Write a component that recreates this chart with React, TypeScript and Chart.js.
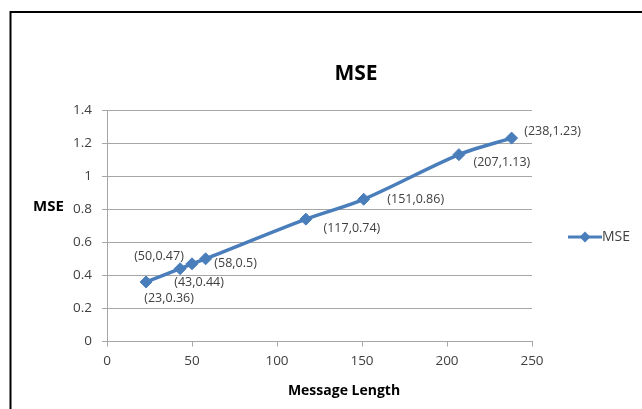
import React, { useEffect, useRef } from "react";
import { Chart, registerables } from "chart.js";

Chart.register(...registerables);

// ---- data ----
const messageLength = [23, 43, 50, 58, 117, 151, 207, 238];
const mseValues = [0.36, 0.44, 0.47, 0.5, 0.74, 0.86, 1.13, 1.23];
const xTickValues = [0, 50, 100, 150, 200, 250];
const yTickValues = [0, 0.2, 0.4, 0.6, 0.8, 1, 1.2, 1.4];
const seriesName = "MSE";
const chartTitle = "MSE";
const xAxisTitle = "Message Length";
const yAxisTitle = "MSE";

// ---- styles ----
const FONT = "'Open Sans', 'Noto Sans', sans-serif";
const LINE_COLOR = "#4A7EBB";
const GRID_COLOR = "#A6A6A6";
const TEXT_COLOR = "#404040";
// label offsets (relative to each point, in px) – Excel-like manual placement
const LABEL_OFFSETS: [number, number][] = [
  [23, 16],
  [19, 14],
  [-33, -7],
  [30, 5],
  [46, 9],
  [52, 0],
  [43, 8],
  [41, -7],
];

const W = 642;
const H = 409;

const decorPlugin = {
  id: "decor",
  beforeDraw(chart: any) {
    const ctx = chart.ctx;
    ctx.save();
    ctx.fillStyle = "#ffffff";
    ctx.fillRect(0, 0, W, H);
    // outer frame
    ctx.strokeStyle = "#000000";
    ctx.lineWidth = 2;
    ctx.beginPath();
    ctx.moveTo(10.5, H + 5);
    ctx.lineTo(10.5, 12);
    ctx.lineTo(W + 5, 12);
    ctx.stroke();
    ctx.restore();
  },
  afterDraw(chart: any) {
    const ctx = chart.ctx;
    ctx.save();
    // title
    ctx.fillStyle = "#000000";
    ctx.textAlign = "center";
    ctx.textBaseline = "middle";
    ctx.font = `bold 21px ${FONT}`;
    ctx.fillText(chartTitle, 356, 74);
    // axis titles
    ctx.font = `bold 14px ${FONT}`;
    ctx.fillText(xAxisTitle, 344, 391);
    ctx.font = `bold 15px ${FONT}`;
    ctx.fillText(yAxisTitle, 48.5, 206.5);

    // data labels
    const meta = chart.getDatasetMeta(0);
    ctx.font = `12.5px ${FONT}`;
    ctx.fillStyle = TEXT_COLOR;
    meta.data.forEach((pt: any, i: number) => {
      const [dx, dy] = LABEL_OFFSETS[i] || [0, -12];
      const txt = `(${messageLength[i]},${mseValues[i]})`;
      ctx.fillText(txt, pt.x + dx, pt.y + dy);
    });

    // legend
    const ds = chart.data.datasets[0];
    const ly = 237;
    ctx.strokeStyle = ds.borderColor;
    ctx.lineWidth = 3;
    ctx.beginPath();
    ctx.moveTo(568, ly);
    ctx.lineTo(602, ly);
    ctx.stroke();
    ctx.fillStyle = ds.borderColor;
    ctx.beginPath();
    ctx.moveTo(585, ly - 5.5);
    ctx.lineTo(590.5, ly);
    ctx.lineTo(585, ly + 5.5);
    ctx.lineTo(579.5, ly);
    ctx.closePath();
    ctx.fill();
    ctx.fillStyle = TEXT_COLOR;
    ctx.font = `14px ${FONT}`;
    ctx.textAlign = "left";
    ctx.fillText(ds.label, 602, ly);
    ctx.restore();
  },
};

export default function App() {
  const ref = useRef<HTMLCanvasElement | null>(null);

  useEffect(() => {
    if (!ref.current) return;
    const chart = new Chart(ref.current, {
      type: "line",
      data: {
        datasets: [
          {
            label: seriesName,
            data: messageLength.map((x, i) => ({ x, y: mseValues[i] })),
            borderColor: LINE_COLOR,
            backgroundColor: LINE_COLOR,
            borderWidth: 3.5,
            tension: 0.3,
            pointStyle: "rectRot",
            pointRadius: 6,
            pointHoverRadius: 6,
            pointBackgroundColor: LINE_COLOR,
            pointBorderColor: LINE_COLOR,
            pointBorderWidth: 1,
            fill: false,
          },
        ],
      },
      options: {
        responsive: false,
        animation: false,
        devicePixelRatio: 1,
        layout: { padding: { left: 0, right: 110, top: 110, bottom: 0 } },
        plugins: {
          legend: { display: false },
          title: { display: false },
          tooltip: { enabled: false },
        },
        scales: {
          x: {
            type: "linear",
            min: 0,
            max: 250,
            afterBuildTicks: (s: any) => {
              s.ticks = xTickValues.map((v) => ({ value: v }));
            },
            afterFit: (s: any) => {
              s.height = 67.5;
            },
            grid: {
              drawOnChartArea: false,
              drawTicks: true,
              tickLength: 5,
              color: GRID_COLOR,
            },
            border: { color: GRID_COLOR, width: 1 },
            ticks: {
              padding: 7,
              color: TEXT_COLOR,
              font: { family: FONT, size: 13.5 },
              maxRotation: 0,
            },
          },
          y: {
            type: "linear",
            min: 0,
            max: 1.4,
            afterBuildTicks: (s: any) => {
              s.ticks = yTickValues.map((v) => ({ value: v }));
            },
            afterFit: (s: any) => {
              s.width = 107;
            },
            grid: {
              drawOnChartArea: true,
              drawTicks: true,
              tickLength: 5,
              color: GRID_COLOR,
            },
            border: { color: GRID_COLOR, width: 1 },
            ticks: {
              padding: 10,
              color: TEXT_COLOR,
              font: { family: FONT, size: 13.5 },
              callback: (v: any) => String(Math.round(Number(v) * 10) / 10),
            },
          },
        },
      },
      plugins: [decorPlugin],
    });
    return () => chart.destroy();
  }, []);

  return (
    <div style={{ position: "absolute", left: 0, top: 0, width: W, height: H, background: "#fff" }}>
      <canvas ref={ref} width={W} height={H} style={{ width: W, height: H, display: "block" }} />
    </div>
  );
}
